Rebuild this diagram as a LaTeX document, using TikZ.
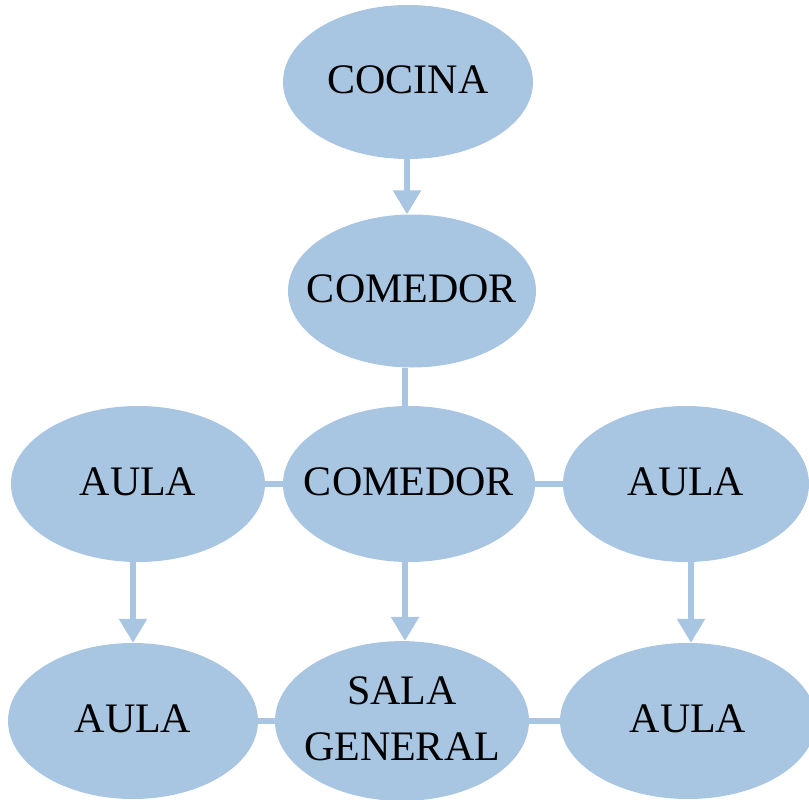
\documentclass[tikz,border=0pt]{standalone}
\usepackage{fontspec}
\setmainfont{Liberation Serif}
\usetikzlibrary{shapes.geometric,arrows.meta}
\definecolor{roomblue}{RGB}{168,197,225}
% zero-width label box, so the ellipse keeps its own size
\newcommand{\roomlabel}[1]{\makebox[0pt][c]{\begin{tabular}{@{}c@{}}#1\end{tabular}}}
\begin{document}
\begin{tikzpicture}[x=1pt,y=-1pt,
  room/.style={ellipse,fill=roomblue,draw=none,inner sep=0pt,
    minimum width=252pt,minimum height=156pt,
    font=\fontsize{42}{57}\selectfont},
  link/.style={draw=roomblue,line width=5.5pt},
  flow/.style={link,-{Triangle[width=27pt,length=24pt]}}]
\useasboundingbox (0,0) rectangle (809,800);
% rooms
\node[room,minimum width=250pt,minimum height=154pt] (cocina) at (408,82) {\roomlabel{COCINA}};
\node[room,minimum width=248pt,minimum height=153pt] (comedorA) at (412,291) {\roomlabel{COMEDOR}};
\node[room,minimum width=254pt] (aulaML) at (138,484) {\roomlabel{AULA}};
\node[room] (comedorB) at (409,484) {\roomlabel{COMEDOR}};
\node[room,minimum width=246pt] (aulaMR) at (686,484) {\roomlabel{AULA}};
\node[room,minimum width=250pt] (aulaBL) at (133,721) {\roomlabel{AULA}};
\node[room,minimum width=254pt,minimum height=158pt] (sala) at (402,721) {\roomlabel{SALA\\[-1pt]GENERAL}};
\node[room,minimum width=256pt] (aulaBR) at (688,721) {\roomlabel{AULA}};
% connectors
\draw[flow] (cocina.south -| 407,0) -- (comedorA.north -| 407,0);
\draw[link] (comedorA.south -| 405,0) -- (comedorB.north -| 405,0);
\draw[link] (aulaML) -- (comedorB);
\draw[link] (comedorB) -- (aulaMR);
\draw[link] (aulaBL) -- (sala);
\draw[link] (sala) -- (aulaBR);
\draw[flow] (aulaML.south -| aulaBL) -- (aulaBL.north);
\draw[flow] (comedorB.south -| 405,0) -- (sala.north -| 405,0);
\draw[flow] (aulaMR.south -| 691,0) -- (aulaBR.north -| 691,0);
\end{tikzpicture}
\end{document}
